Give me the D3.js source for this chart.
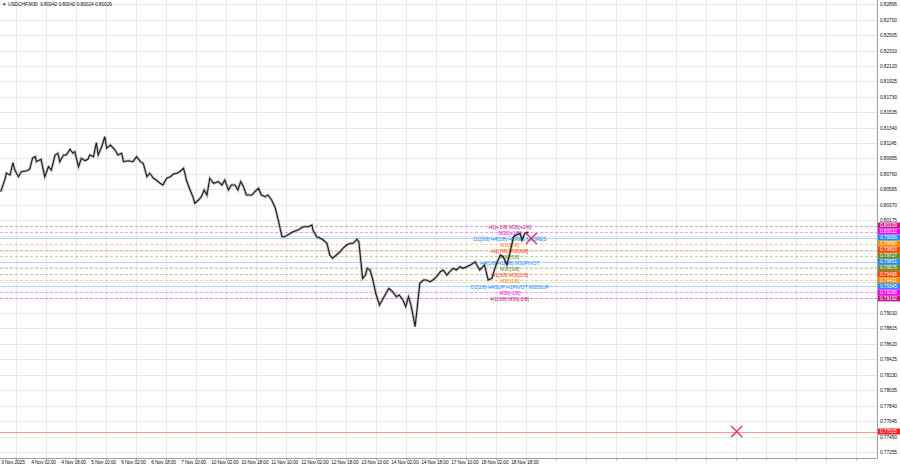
<!DOCTYPE html>
<html><head><meta charset="utf-8">
<script src="https://cdn.jsdelivr.net/npm/d3@7"></script>
<style>
body{margin:0;background:#fff}
svg{display:block}
text{font-family:"Liberation Sans",Arial,sans-serif}
</style>
</head><body>
<svg id="c" width="900" height="468"></svg>
<script>
// ---------- data ----------
const titleText = "USDCHF,M30  0.80042 0.80042 0.80024 0.80026";
const timeLabels = ["3 Nov 2025","4 Nov 02:00","4 Nov 18:00","5 Nov 10:00","6 Nov 02:00","6 Nov 18:00","7 Nov 10:00","10 Nov 02:00","10 Nov 18:00","11 Nov 10:00","12 Nov 02:00","12 Nov 18:00","13 Nov 10:00","14 Nov 02:00","14 Nov 18:00","17 Nov 10:00","18 Nov 02:00","18 Nov 18:00"];
const timeLabelBars = [0,32,64,96,128,160,192,224,256,288,320,352,384,416,448,480,512,544];
const priceTicks = [0.82895,0.82700,0.82505,0.82310,0.82120,0.81925,0.81730,0.81535,0.81340,0.81145,0.80955,0.80760,0.80565,0.80370,0.80175,0.79980,0.79785,0.79590,0.79395,0.79200,0.79010,0.78815,0.78620,0.78425,0.78230,0.78035,0.77840,0.77645,0.77450,0.77255];

const sampleBars = [0,5,6,10,13,15,19,22,28,31,34,37,38,43,47,51,54,58,61,63,67,70,74,77,79,83,86,90,93,95,99,102,104,108,111,113,117,122,125,129,131,136,141,145,149,152,156,159,163,166,170,173,177,181,184,188,191,195,197,198,202,205,207,211,214,217,220,223,227,232,236,239,243,246,250,253,256,259,262,268,271,275,278,282,285,289,293,296,300,303,309,312,317,323,328,332,333,337,341,344,348,351,354,358,362,365,369,373,376,380,382,384,386,389,391,394,397,400,404,407,411,414,418,422,425,429,432,435,438,442,444,447,451,454,458,461,465,469,472,476,479,483,486,490,493,497,501,504,506,509,511,516,520,524,526,529,533,536,540,543,547,550,554,556,559,563];
const sampleClose = [0.80535,0.80708,0.80770,0.80745,0.80900,0.80808,0.80724,0.80787,0.80799,0.80821,0.80959,0.80976,0.80913,0.80943,0.80724,0.80850,0.80808,0.80997,0.81019,0.80913,0.80997,0.80997,0.81069,0.81019,0.81039,0.80850,0.80956,0.80925,0.80943,0.80997,0.80976,0.81152,0.80997,0.81111,0.81228,0.81082,0.81123,0.81060,0.80997,0.81019,0.80913,0.80925,0.80913,0.80976,0.80913,0.80893,0.80724,0.80767,0.80704,0.80682,0.80641,0.80619,0.80704,0.80724,0.80758,0.80767,0.80787,0.80830,0.80745,0.80682,0.80556,0.80472,0.80389,0.80430,0.80472,0.80556,0.80493,0.80704,0.80641,0.80661,0.80619,0.80682,0.80556,0.80619,0.80619,0.80556,0.80661,0.80598,0.80493,0.80493,0.80535,0.80578,0.80493,0.80472,0.80493,0.80430,0.80326,0.80179,0.79968,0.79968,0.80011,0.80031,0.80053,0.80094,0.80094,0.80116,0.80053,0.79968,0.79948,0.79927,0.79885,0.79738,0.79696,0.79738,0.79779,0.79822,0.79864,0.79885,0.79885,0.79936,0.79905,0.79675,0.79444,0.79486,0.79570,0.79549,0.79423,0.79256,0.79108,0.79171,0.79256,0.79318,0.79276,0.79213,0.79234,0.79171,0.79087,0.79213,0.79087,0.78835,0.79045,0.79381,0.79423,0.79423,0.79402,0.79423,0.79465,0.79528,0.79549,0.79486,0.79528,0.79570,0.79549,0.79591,0.79570,0.79591,0.79612,0.79633,0.79653,0.79591,0.79549,0.79612,0.79423,0.79444,0.79528,0.79633,0.79738,0.79716,0.79612,0.79759,0.79968,0.79990,0.80011,0.79927,0.80011,0.80026];

const levelPrices = [0.80109,0.80032,0.79956,0.79880,0.79803,0.79727,0.79651,0.79575,0.79498,0.79421,0.79345,0.79268,0.79192];
const levelLabels = ["H1[+1/8] M30[+2/8]","M30[+1/8]","D1[3/8] H4[2/8] H1RES M30RES","M30[7/8]","H1[7/8] M30[6/8]","M30[5/8]","H4[1/8] H1[6/8] M30PIVOT","M30[3/8]","H1[5/8] M30[2/8]","M30[1/8]","D1[2/8] H4SUP H1PIVOT M30SUP","M30[-1/8]","H1[3/8] M30[-2/8]"];
const levelColors = ["#c71585","#ff00ff","#1e90ff","#ff8c00","#ff4500","#6b8e23","#1e90ff","#6b8e23","#ff4500","#ff8c00","#1e90ff","#ff00ff","#c71585"];
const levelSolid = [false,false,true,false,false,false,true,false,false,false,true,false,false];
const levelLabelBar = 543;

const stopPrice = 0.77515;
const markerBars = [566, 785];
const markerPrices = [0.79946, 0.77515];

// ---------- layout ----------
const plotR = 877, plotB = 458;
const FS = 4.9;
const svg = d3.select("#c");
const x = d3.scaleLinear().domain([0, 935]).range([0.7, 877.3]);
const y = d3.scaleLinear().domain([0.77194, 0.82949]).range([457, 0]);

// grid
const gridBars = d3.range(16, 935, 32);
svg.append("g").selectAll("line").data(gridBars).join("line")
  .attr("x1", d => Math.round(x(d)) + 0.5).attr("x2", d => Math.round(x(d)) + 0.5)
  .attr("y1", 0).attr("y2", plotB).attr("stroke", "#e9e9e9").attr("stroke-width", 1);
svg.append("g").selectAll("line").data(priceTicks).join("line")
  .attr("x1", 0).attr("x2", plotR)
  .attr("y1", d => Math.round(y(d)) + 0.5).attr("y2", d => Math.round(y(d)) + 0.5)
  .attr("stroke", "#e9e9e9").attr("stroke-width", 1);

// level lines
const lv = svg.append("g");
levelPrices.forEach((p, i) => {
  lv.append("line").attr("x1", 0).attr("x2", plotR)
    .attr("y1", Math.round(y(p)) + 0.5).attr("y2", Math.round(y(p)) + 0.5)
    .attr("stroke", levelColors[i])
    .attr("stroke-opacity", levelSolid[i] ? 0.35 : 0.4)
    .attr("stroke-dasharray", levelSolid[i] ? null : "3,2")
    .attr("stroke-width", 1);
});
// stop line
svg.append("line").attr("x1", 0).attr("x2", plotR)
  .attr("y1", Math.round(y(stopPrice)) + 0.5).attr("y2", Math.round(y(stopPrice)) + 0.5)
  .attr("stroke", "#ff3030").attr("stroke-opacity", 0.5);

// level text labels
levelPrices.forEach((p, i) => {
  svg.append("text").attr("x", x(levelLabelBar)).attr("y", y(p) + 1)
    .attr("text-anchor", "middle").attr("dominant-baseline", "central")
    .attr("font-size", 5.2).attr("letter-spacing", -0.1).attr("fill", levelColors[i]).text(levelLabels[i]);
});

// price path (soft halo + core line to mimic dense bars)
const pts = sampleBars.map((b, i) => [b, sampleClose[i]]);
const lineGen = d3.line().x(d => x(d[0])).y(d => y(d[1]));
svg.append("path").datum(pts).attr("d", lineGen)
  .attr("fill", "none").attr("stroke", "#555").attr("stroke-opacity", 0.35).attr("stroke-width", 2.8);
svg.append("path").datum(pts).attr("d", lineGen)
  .attr("fill", "none").attr("stroke", "#1a1a1a").attr("stroke-width", 1.1);

// markers
markerBars.forEach((b, i) => {
  const cx = x(b), cy = y(markerPrices[i]), r = 5.5;
  svg.append("path")
    .attr("d", `M${cx - r},${cy - r}L${cx + r},${cy + r}M${cx - r},${cy + r}L${cx + r},${cy - r}`)
    .attr("stroke", "#ec2f5b").attr("stroke-width", 1.3).attr("fill", "none");
});

// borders
svg.append("line").attr("x1", plotR + 0.5).attr("x2", plotR + 0.5).attr("y1", 0).attr("y2", plotB)
  .attr("stroke", "#a0a0a0");
svg.append("line").attr("x1", 0).attr("x2", plotR + 0.5).attr("y1", plotB + 0.5).attr("y2", plotB + 0.5)
  .attr("stroke", "#a0a0a0");

// right axis: skip tick labels hidden behind the level boxes
const allBoxes = levelPrices.concat([stopPrice]);
const visibleTicks = priceTicks.filter(t => allBoxes.every(b => Math.abs(y(t) - y(b)) > 5));
const ya = svg.append("g").attr("transform", `translate(${plotR},0)`)
  .call(d3.axisRight(y).tickValues(visibleTicks).tickSize(0).tickPadding(3).tickFormat(d3.format(".5f")));
ya.select(".domain").remove();
ya.selectAll("text").attr("font-size", FS).attr("letter-spacing", -0.12).attr("fill", "#111")
  .attr("font-family", "Liberation Sans, Arial, sans-serif");

// bottom axis
const xa = svg.append("g").attr("transform", `translate(0,${plotB})`)
  .call(d3.axisBottom(x).tickValues(timeLabelBars).tickSize(0).tickPadding(3).tickFormat((d, i) => timeLabels[i]));
xa.select(".domain").remove();
xa.selectAll("text").attr("font-size", FS).attr("letter-spacing", -0.15).attr("fill", "#111").attr("text-anchor", "start")
  .attr("font-family", "Liberation Sans, Arial, sans-serif");
svg.append("g").selectAll("line").data(gridBars).join("line")
  .attr("x1", d => Math.round(x(d)) + 0.5).attr("x2", d => Math.round(x(d)) + 0.5)
  .attr("y1", plotB).attr("y2", plotB + 2).attr("stroke", "#a0a0a0");

// level price boxes on axis
const boxG = svg.append("g");
allBoxes.forEach((p, i) => {
  const cy = y(p);
  const col = i < levelColors.length ? levelColors[i] : "#ff1a1a";
  boxG.append("rect").attr("x", plotR + 1).attr("y", cy - 3).attr("width", 900 - plotR - 1).attr("height", 6)
    .attr("fill", col);
  boxG.append("text").attr("x", plotR + 3).attr("y", cy).attr("dominant-baseline", "central")
    .attr("font-size", FS).attr("letter-spacing", -0.12).attr("fill", "#fff").text(d3.format(".5f")(p));
});

// title
svg.append("text").attr("x", 2).attr("y", 4).attr("dominant-baseline", "central")
  .attr("font-size", 4.5).attr("fill", "#111").text("▼");
svg.append("text").attr("x", 8).attr("y", 4).attr("dominant-baseline", "central")
  .attr("font-size", 4.9).attr("letter-spacing", -0.1).attr("fill", "#111").attr("xml:space", "preserve").text(titleText);
</script>
</body></html>
